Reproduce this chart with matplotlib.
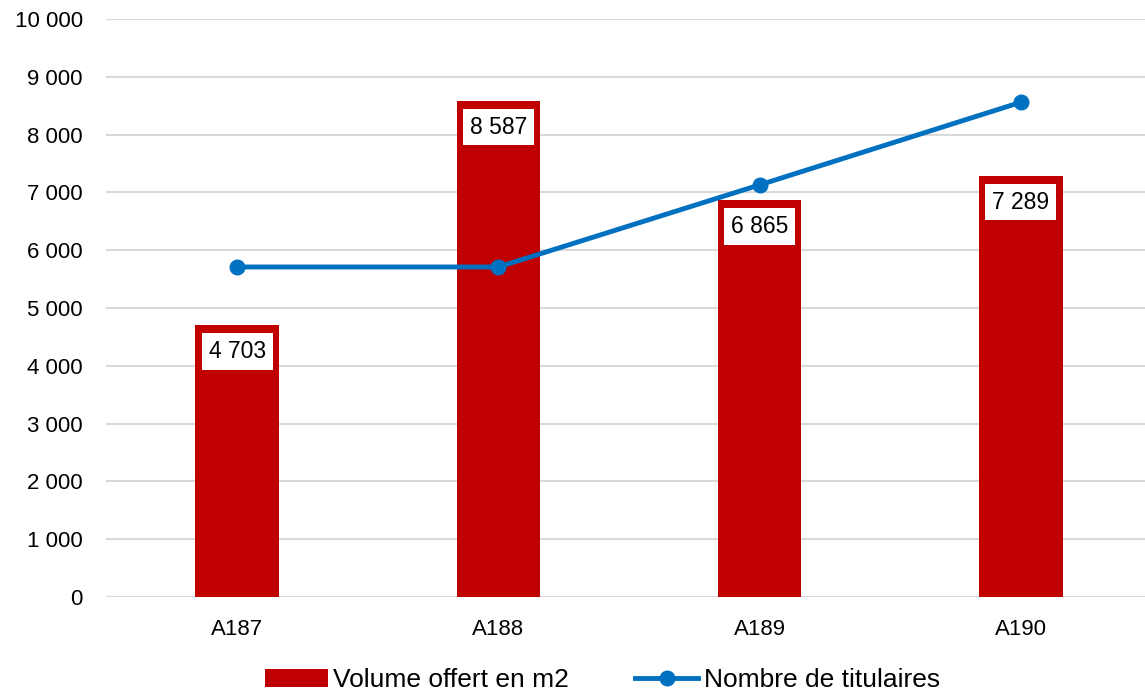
import matplotlib.pyplot as plt
from matplotlib.ticker import FuncFormatter

# data
categories = ['A187', 'A188', 'A189', 'A190']
volume_m2 = [4703, 8587, 6865, 7289]
titulaires = [5710, 5710, 7130, 8560]

plt.rcParams['font.family'] = ['Liberation Sans', 'DejaVu Sans']

fig = plt.figure(figsize=(11.45, 6.94), dpi=100)
ax = fig.add_axes([0.093, 0.1398, 0.9127, 0.8328])

x = range(len(categories))
bars = ax.bar(x, volume_m2, width=0.32, color='#C00000', zorder=2, label='Volume offert en m2')
line, = ax.plot(x, titulaires, color='#0070C0', lw=3.5, marker='o', markersize=10.5, zorder=4,
                label='Nombre de titulaires')

# value labels in white boxes just under the top of each bar
for xi, v in zip(x, volume_m2):
    ax.annotate(f'{v:,}'.replace(',', ' '), (xi, v), xytext=(0, -19), textcoords='offset points',
                ha='center', va='center', fontsize=16.5, zorder=3,
                bbox=dict(boxstyle='square,pad=0.3', fc='white', ec='none'))

ax.set_xlim(-0.5, 3.5)
ax.set_ylim(0, 10000)
ax.set_yticks(range(0, 10001, 1000))
ax.yaxis.set_major_formatter(FuncFormatter(lambda v, p: f'{int(v):,}'.replace(',', ' ')))
ax.set_xticks(list(x))
ax.set_xticklabels(categories)
ax.tick_params(axis='both', length=0, labelsize=16)
ax.tick_params(axis='x', pad=16)
ax.tick_params(axis='y', pad=17)
ax.grid(axis='y', color='#D9D9D9', lw=1.5, zorder=0)
ax.set_axisbelow(True)
for s in ax.spines.values():
    s.set_visible(False)

fig.legend(handles=[bars, line], loc='center', bbox_to_anchor=(0.526, 0.02), ncol=2, frameon=False,
           fontsize=19, handlelength=2.4, handletextpad=0.2, columnspacing=2.5)

fig.savefig('out.png', dpi=100)
